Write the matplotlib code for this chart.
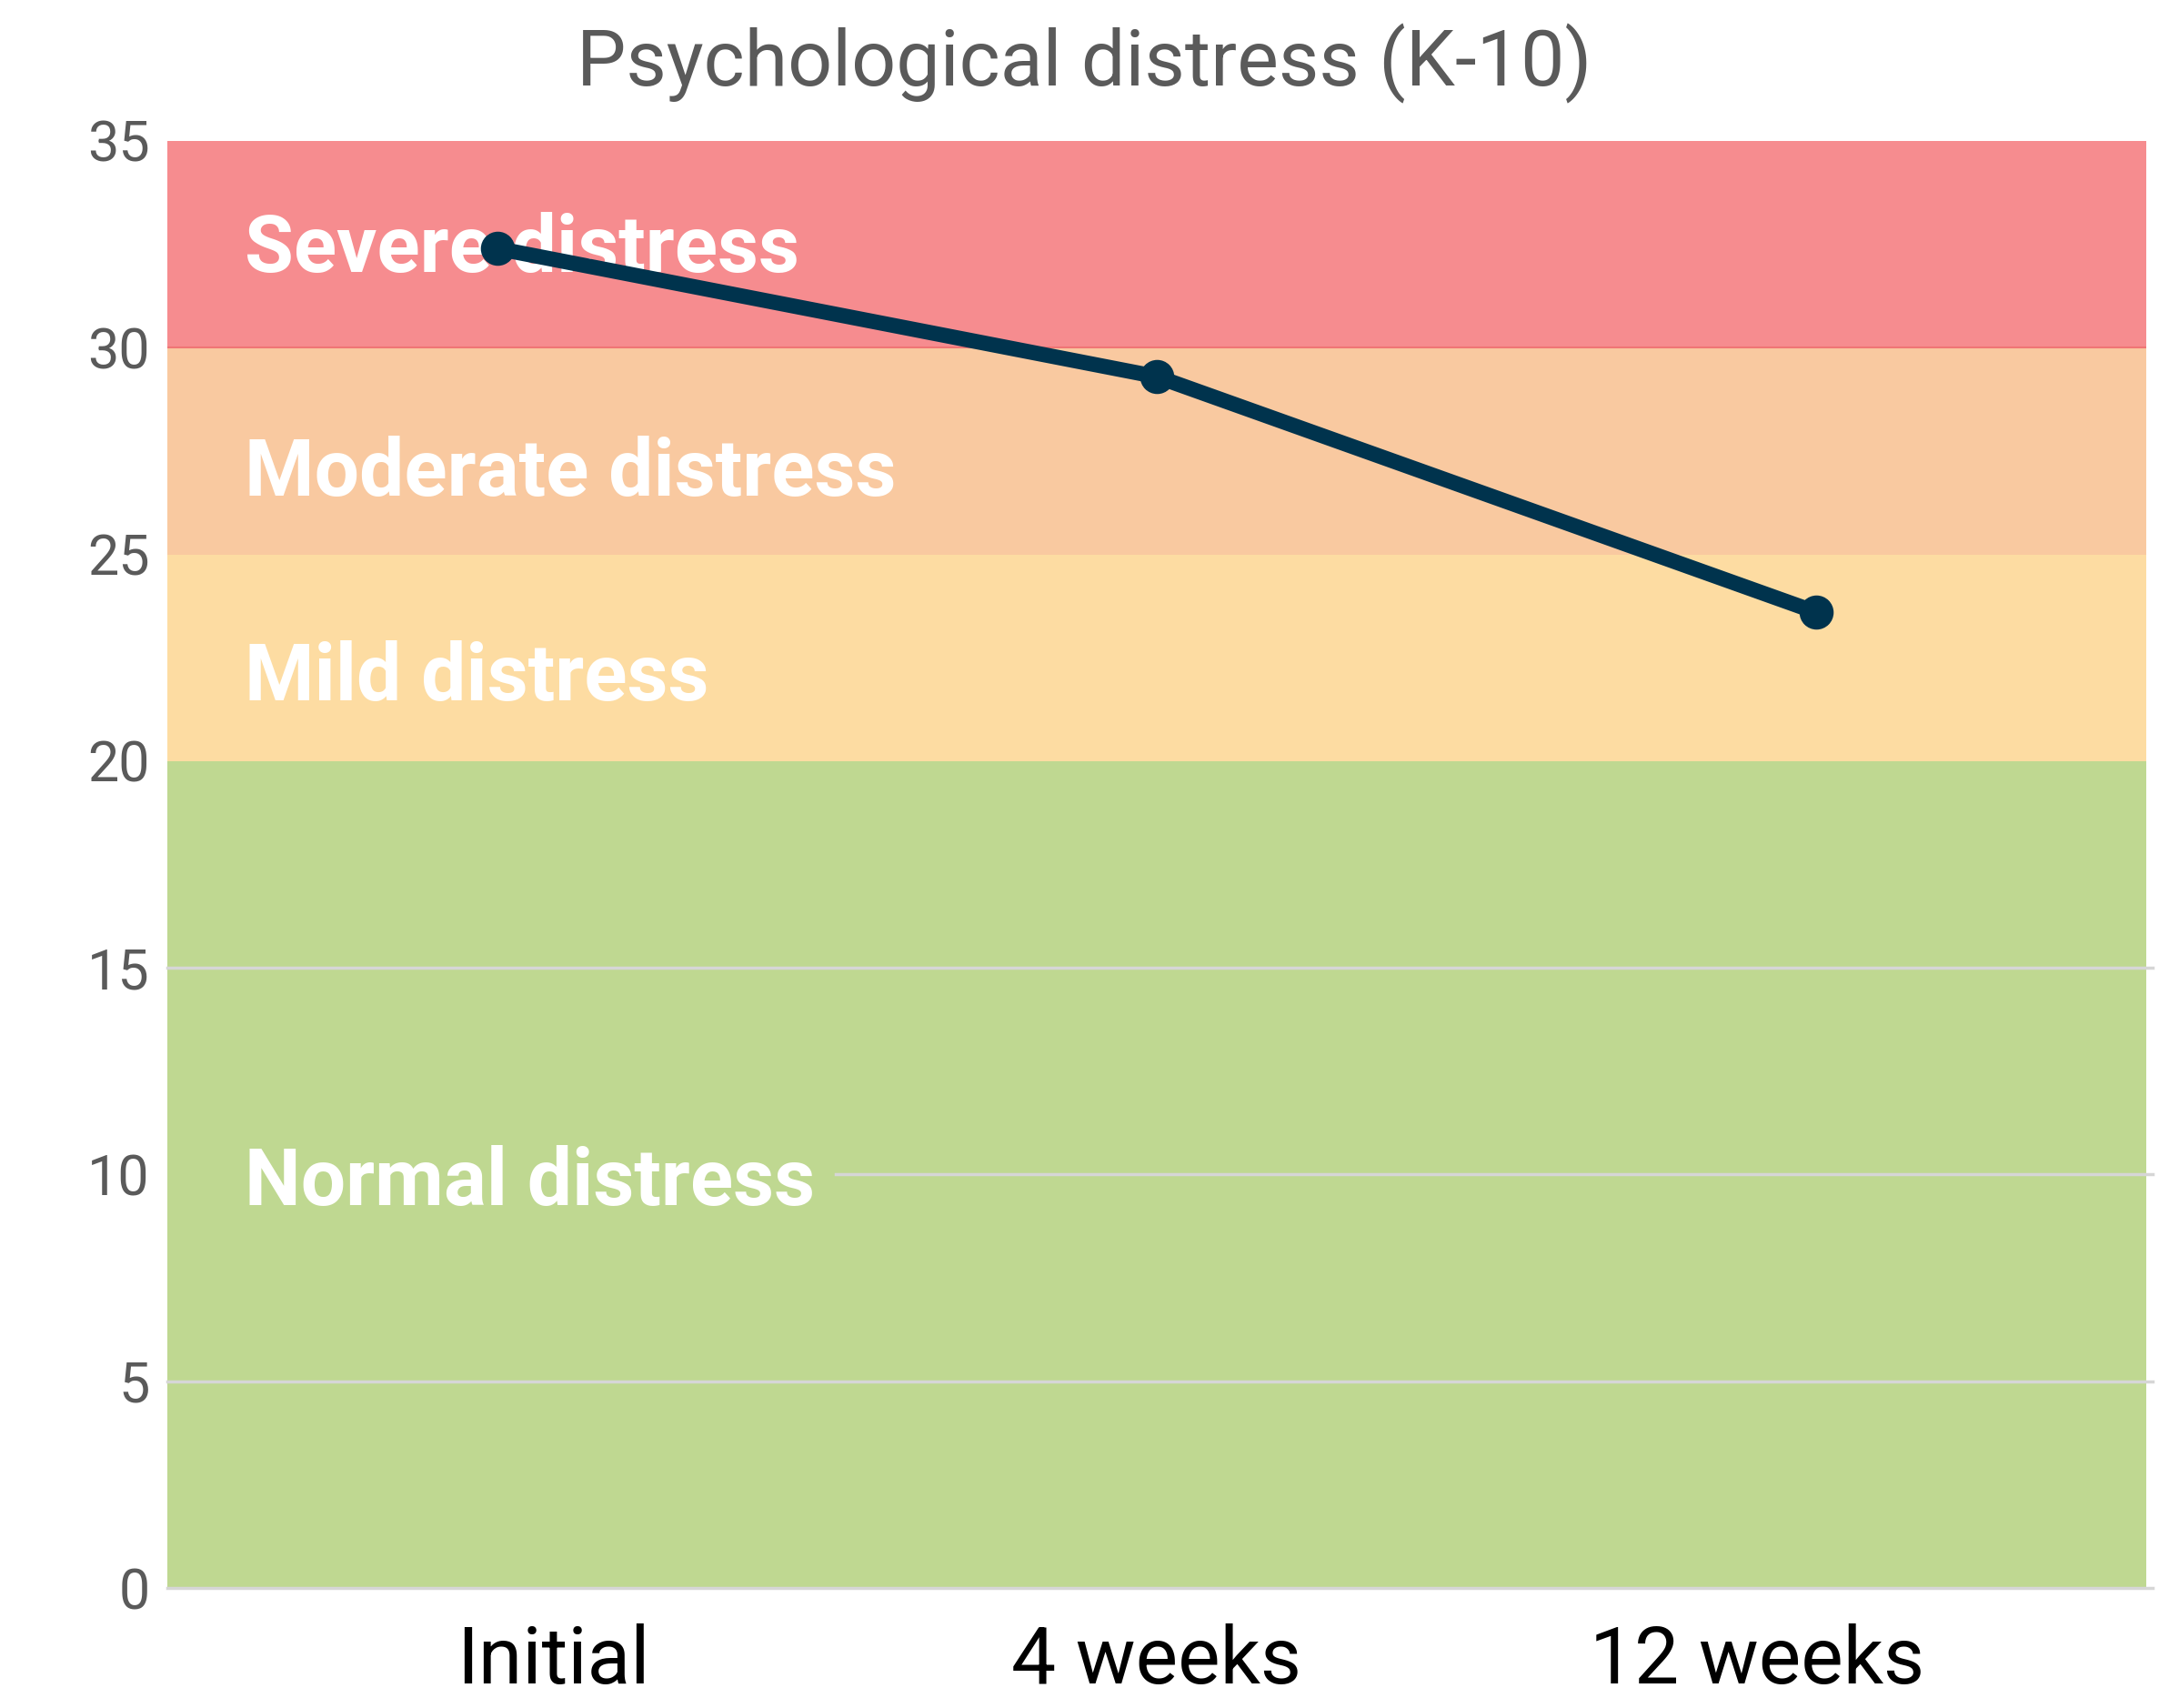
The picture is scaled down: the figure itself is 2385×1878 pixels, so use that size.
import matplotlib
matplotlib.use('Agg')
import matplotlib.pyplot as plt
import matplotlib.transforms as mtransforms

# 데이터
time_points = ['Initial', '4 weeks', '12 weeks']
k10_scores = [32.4, 29.3, 23.6]

band_names = ['Normal distress', 'Mild distress', 'Moderate distress', 'Severe distress']
band_lower = [0, 20, 25, 30]
band_upper = [20, 25, 30, 35]
band_colors = ['#bfd891', '#fddca2', '#f9c9a0', '#f68c8f']
band_label_y = [9.8, 22.0, 26.95, 32.35]

y_ticks = [0, 5, 10, 15, 20, 25, 30, 35]

plt.rcParams['font.family'] = ['Roboto', 'DejaVu Sans']

fig = plt.figure(figsize=(23.85, 18.78), dpi=100)
ax = fig.add_axes([184 / 2385, 1 - 1746 / 1878, (2360 - 184) / 2385, (1746 - 155) / 1878])

# 구간 배경
for lo, hi, c in zip(band_lower, band_upper, band_colors):
    ax.axhspan(lo, hi, color=c, zorder=0, lw=0)
ax.axhline(30, color='#f07575', lw=1.5, zorder=1)

# 그리드 (초록 구간 안쪽만), 10 은 라벨 뒤에서 끊김
for yv in [0, 5, 10, 15]:
    x0 = 0.338 if yv == 10 else 0
    ax.axhline(yv, xmin=x0, xmax=1.0032, color='#d6d6d6', lw=2.5, zorder=1, clip_on=False)

# 구간 라벨
trans = mtransforms.blended_transform_factory(ax.transAxes, ax.transData)
for name, yl in zip(band_names, band_label_y):
    ax.text(0.039, yl, name, transform=trans, color='white', fontsize=63,
            fontweight='bold', va='center', ha='left', zorder=2)

# 선
ax.plot(range(len(time_points)), k10_scores, color='#00334d', lw=12,
        marker='o', markersize=26, zorder=3, solid_capstyle='round')

ax.set_xlim(-0.5, 2.5)
ax.set_ylim(0, 35)
ax.set_yticks(y_ticks)
ax.set_yticklabels([str(v) for v in y_ticks], fontsize=44, color='#5a5a5a')
ax.set_xticks([0.085, 1.0, 1.91])
ax.set_xticklabels(time_points, fontsize=63, color='black')
ax.tick_params(axis='y', length=0, pad=14)
ax.tick_params(axis='x', length=0, pad=28)
for s in ax.spines.values():
    s.set_visible(False)

fig.text(0.5, 1 - 70 / 1878, 'Psychological distress (K-10)', ha='center', va='center',
         fontsize=62, color='#5a5a5a')

fig.savefig('out.png', dpi=100, facecolor='white')
